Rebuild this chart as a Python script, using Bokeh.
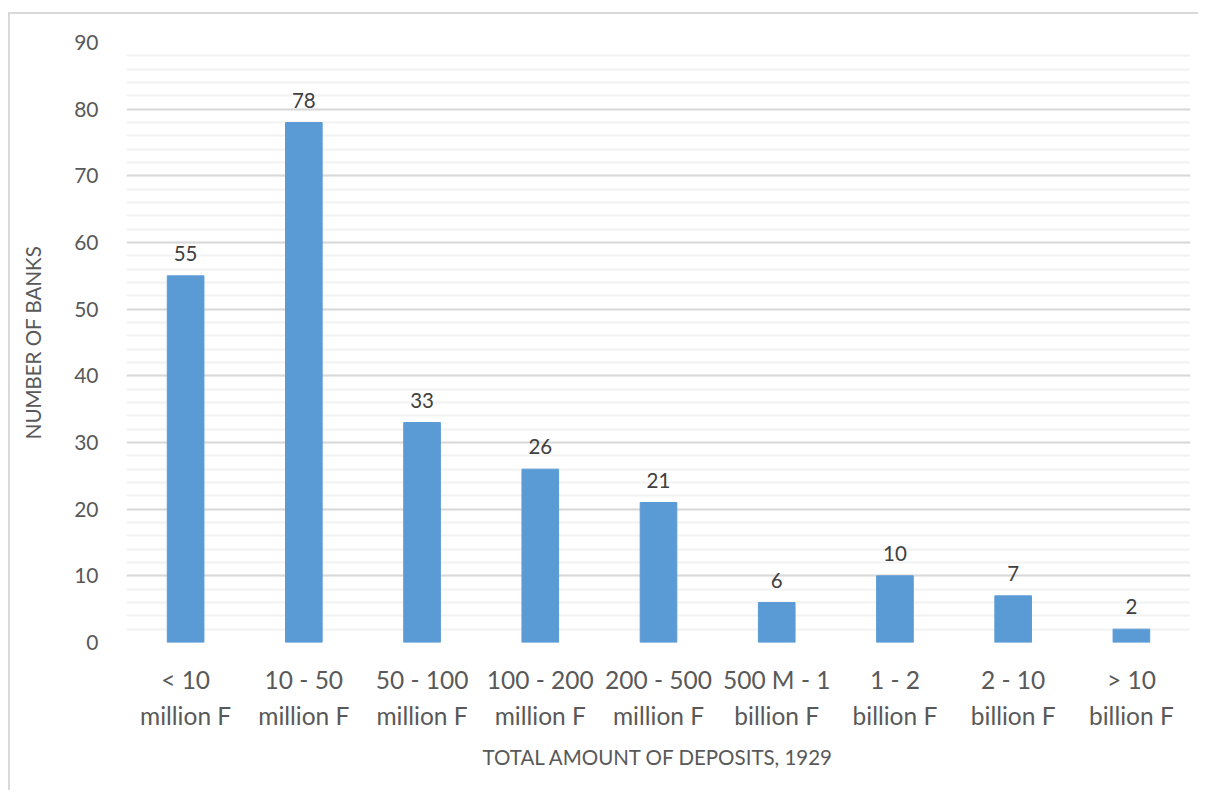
from bokeh.plotting import figure
from bokeh.models import (ColumnDataSource, FactorRange, Range1d, FixedTicker, LabelSet,
                          CategoricalAxis, CustomJSTickFormatter)
from bokeh.embed import file_html
from bokeh.resources import INLINE
from bokeh.core.properties import value

categories = ["< 10", "10 - 50", "50 - 100", "100 - 200", "200 - 500",
              "500 M - 1", "1 - 2", "2 - 10", "> 10"]
units = ["million F", "million F", "million F", "million F", "million F",
         "billion F", "billion F", "billion F", "billion F"]
banks = [55, 78, 33, 26, 21, 6, 10, 7, 2]
y_ticks = [0, 10, 20, 30, 40, 50, 60, 70, 80, 90]

FONT = "Lato"

src = ColumnDataSource(dict(cat=categories, n=banks, lbl=[str(v) for v in banks]))

p = figure(width=1190, height=778, x_range=FactorRange(*categories, range_padding=0),
           y_range=Range1d(0, 90), output_backend="svg", toolbar_location=None,
           min_border_left=116, min_border_right=10, min_border_top=28, min_border_bottom=150)
p.styles = {"border-top": "2px solid #d9d9d9", "border-left": "2px solid #d9d9d9",
            "margin-top": "12px", "margin-left": "8px"}
p.outline_line_color = None
p.background_fill_color = "white"

p.vbar(x="cat", top="n", width=0.31, source=src, color="#5b9bd5")

labels = LabelSet(x="cat", y="n", text="lbl", source=src, text_align="center",
                  text_baseline="bottom", y_offset=15, text_font=value(FONT),
                  text_font_size="20.5px", text_color="#404040")
p.add_layout(labels)

p.yaxis.ticker = FixedTicker(ticks=y_ticks, minor_ticks=list(range(0, 91, 2)))
p.ygrid.grid_line_color = "#d9d9d9"
p.ygrid.grid_line_width = 2
p.ygrid.minor_grid_line_color = "#f2f2f2"
p.ygrid.minor_grid_line_width = 2
p.xgrid.grid_line_color = None

# second line of each category label
unit_fmt = CustomJSTickFormatter(args=dict(cats=categories, units=units), code="""
    const i = cats.indexOf(tick);
    return i >= 0 ? units[i] : tick;
""")
unit_axis = CategoricalAxis(formatter=unit_fmt)
p.add_layout(unit_axis, "below")

for ax in (p.xaxis[0], unit_axis, p.yaxis[0]):
    ax.axis_line_color = None
    ax.major_tick_line_color = None
    ax.minor_tick_line_color = None
    ax.major_label_text_font = FONT
    ax.major_label_text_color = "#595959"
    ax.axis_label_text_font = FONT
    ax.axis_label_text_color = "#595959"
    ax.axis_label_text_font_style = "normal"
    ax.axis_label_text_font_size = "20.5px"

p.yaxis.major_label_text_font_size = "21px"
p.yaxis.major_label_standoff = 22
p.xaxis[0].major_label_text_font_size = "24.5px"
unit_axis.major_label_text_font_size = "24.5px"
p.xaxis[0].major_label_standoff = 16
p.xaxis[0].major_label_orientation = "horizontal"
unit_axis.major_label_standoff = -2
unit_axis.major_label_orientation = "horizontal"
p.yaxis.axis_label = "NUMBER OF BANKS"
p.yaxis.axis_label_standoff = 26
unit_axis.axis_label = "TOTAL AMOUNT OF DEPOSITS, 1929"
unit_axis.axis_label_standoff = 12

open("out.html", "w").write(file_html(p, INLINE))
